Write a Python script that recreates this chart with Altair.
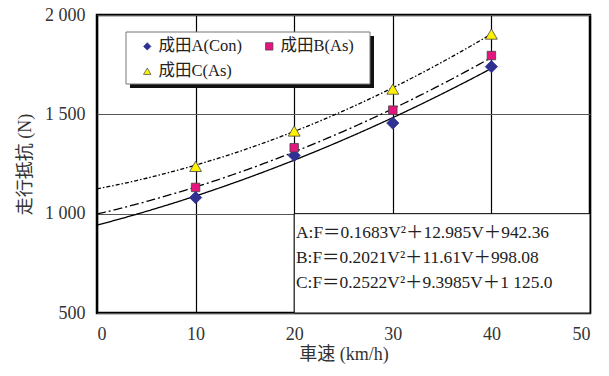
import altair as alt
import pandas as pd

# ---- data ----
series_names = ["成田A(Con)", "成田B(As)", "成田C(As)"]
speeds = [10, 20, 30, 40]
force_A = [1081, 1293, 1456, 1740]
force_B = [1132, 1332, 1521, 1796]
force_C = [1238, 1416, 1627, 1904]
# fitted curve coefficients F = a V^2 + b V + c
coef_a = [0.1683, 0.2021, 0.2522]
coef_b = [12.985, 11.61, 9.3985]
coef_c = [942.36, 998.08, 1125.0]
equations = [
    "A:F＝0.1683V²＋12.985V＋942.36",
    "B:F＝0.2021V²＋11.61V＋998.08",
    "C:F＝0.2522V²＋9.3985V＋1 125.0",
]
x_ticks = [0, 10, 20, 30, 40, 50]
y_ticks = [500, 1000, 1500, 2000]

colors = ["#2E3192", "#E4157F", "#FFF200"]
shapes = ["diamond", "square", "triangle-up"]
strokes = ["#2E3192", "#444444", "#444444"]
marker_sizes = [150, 72, 140]
dashes = [[1, 0], [9, 3, 2, 3], [4, 2, 1.5, 2]]

SERIF = "Liberation Serif, Noto Sans CJK JP"

rows = []
for name, vals in zip(series_names, [force_A, force_B, force_C]):
    for v, f in zip(speeds, vals):
        rows.append({"series": name, "V": v, "F": f})
pts = pd.DataFrame(rows)

xs = alt.Scale(domain=[0, 50], nice=False)
ys = alt.Scale(domain=[500, 2000], nice=False)
xaxis = alt.Axis(values=x_ticks, title="車速 (km/h)", grid=True,
                 gridColor="black", gridWidth=1.2, domain=False,
                 ticks=False, labelPadding=12, titlePadding=2)
yaxis = alt.Axis(values=y_ticks, title="走行抵抗 (N)", grid=True,
                 gridColor="#555555", gridWidth=1, domain=False,
                 ticks=False, labelPadding=12, titlePadding=10,
                 labelExpr="replace(format(datum.value, ','), ',', ' ')")

# curves
curves = []
for i, name in enumerate(series_names):
    c = (
        alt.Chart(alt.sequence(0, 40.25, 0.25, as_="V"))
        .transform_calculate(
            F=f"{coef_a[i]}*datum.V*datum.V + {coef_b[i]}*datum.V + {coef_c[i]}"
        )
        .mark_line(color="black", strokeWidth=1.3, strokeDash=dashes[i], clip=True)
        .encode(x=alt.X("V:Q", scale=xs, axis=xaxis),
                y=alt.Y("F:Q", scale=ys, axis=yaxis))
    )
    curves.append(c)

# equation box
box_df = pd.DataFrame({"V": [20], "V2": [50], "F": [500], "F2": [1000]})
box = alt.Chart(box_df).mark_rect(fill="white", stroke="black", strokeWidth=1).encode(
    x=alt.X("V:Q", scale=xs, axis=xaxis), x2="V2",
    y=alt.Y("F:Q", scale=ys, axis=yaxis), y2="F2"
)
eq_text = (
    alt.Chart(pd.DataFrame({"d": [0]}))
    .mark_text(align="left", baseline="middle", font=SERIF, fontSize=17.4,
               color="#222", lineHeight=25)
    .encode(x=alt.value(199), y=alt.value(218), text=alt.value(equations))
)

# legend frame with shadow
one = pd.DataFrame({"d": [0]})
shadow = alt.Chart(one).mark_rect(color="#111111").encode(
    x=alt.value(33), x2=alt.value(277), y=alt.value(21), y2=alt.value(73)
)
legend_box = alt.Chart(one).mark_rect(fill="white", stroke="#777", strokeWidth=1).encode(
    x=alt.value(29), x2=alt.value(273), y=alt.value(17), y2=alt.value(69)
)

size_expr = " : ".join(
    f"datum.series == '{n}' ? {s}" for n, s in zip(series_names[:-1], marker_sizes[:-1])
) + f" : {marker_sizes[-1]}"

points = (
    alt.Chart(pts)
    .transform_calculate(sz=size_expr)
    .mark_point(filled=True, opacity=1, strokeWidth=0.8)
    .encode(
        x=alt.X("V:Q", scale=xs, axis=xaxis),
        y=alt.Y("F:Q", scale=ys, axis=yaxis),
        color=alt.Color("series:N", scale=alt.Scale(domain=series_names, range=colors),
                        legend=alt.Legend(title=None, orient="none", legendX=42, legendY=23,
                                          direction="horizontal", zindex=1,
                                          columns=2, columnPadding=19, rowPadding=8,
                                          padding=0,
                                          labelFont=SERIF, labelFontSize=16.5, labelColor="#222",
                                          symbolSize=55, symbolStrokeColor="#444",
                                          symbolStrokeWidth=0.7, labelOffset=3)),
        shape=alt.Shape("series:N", scale=alt.Scale(domain=series_names, range=shapes)),
        stroke=alt.Stroke("series:N", scale=alt.Scale(domain=series_names, range=strokes),
                          legend=None),
        size=alt.Size("sz:Q", scale=None, legend=None),
    )
)

chart = (
    alt.layer(*curves, box, eq_text, shadow, legend_box, points)
    .properties(
        width=493, height=298,
        padding={"left": 97, "top": 15, "right": 19, "bottom": 63},
        autosize=alt.AutoSizeParams(type="none"),
        background="white",
    )
    .configure_view(stroke="black", strokeWidth=2.5)
    .configure_axis(labelFont=SERIF, labelFontSize=18, labelColor="#333",
                    titleFont=SERIF, titleFontSize=18, titleColor="#333",
                    titleFontWeight="normal")
)

chart.save("out.html", embed_options={"renderer": "svg", "actions": False})
